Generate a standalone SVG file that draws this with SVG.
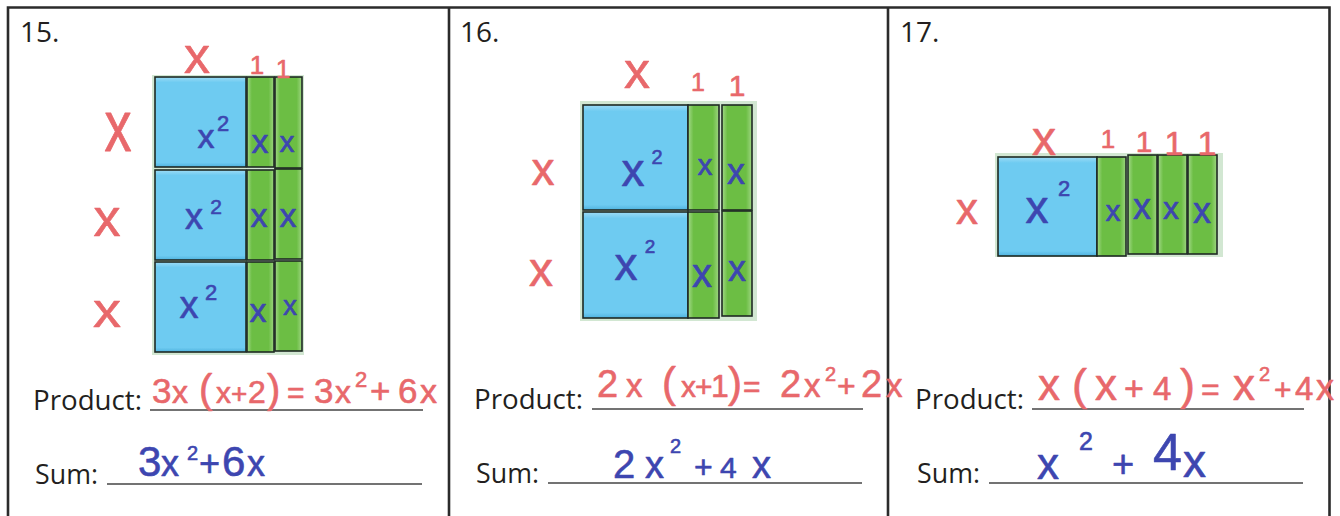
<svg xmlns="http://www.w3.org/2000/svg" width="1340" height="516" viewBox="0 0 1340 516">
<defs>
<linearGradient id="gg" x1="0" y1="0" x2="1" y2="0">
<stop offset="0" stop-color="#a4d98a"/><stop offset="0.18" stop-color="#6cbe44"/><stop offset="0.8" stop-color="#6cbe44"/><stop offset="1" stop-color="#9fd683"/>
</linearGradient>
<linearGradient id="bgr" x1="0" y1="0" x2="0" y2="1">
<stop offset="0" stop-color="#9edcf6"/><stop offset="0.06" stop-color="#6ecbf1"/><stop offset="0.95" stop-color="#6ecbf1"/><stop offset="1" stop-color="#4fb2de"/>
</linearGradient>
<style>
.frame{stroke:#2b2b2b;stroke-width:2.6;fill:none}
.bg{fill:#d2e7d2}
.sq{fill:url(#bgr);stroke:#1f2a24;stroke-width:1.6}
.st{fill:url(#gg);stroke:#1f2a24;stroke-width:1.6}
.ln{stroke:#444;stroke-width:1.6}
.lab{font-family:"Open Sans","Liberation Sans",sans-serif;fill:#231f20}
.h{font-family:"Liberation Sans",Arial,sans-serif;stroke-linejoin:round;stroke-linecap:round}
.r{fill:#e8686b;stroke:#e8686b;stroke-width:0.6}
.b{fill:#3d46b0;stroke:#3d46b0;stroke-width:0.6}
.m{text-anchor:middle}
</style>
</defs>
<rect width="1340" height="516" fill="#ffffff"/>
<g id="frame">
<path class="frame" d="M8 516V7.5H1329.5V516M449 7.5V516M888 7.5V516"/>
</g>

<g id="panel15">
<text class="lab" x="20" y="42" font-size="28">15.</text>
<g id="tiles15">
<rect class="bg" x="152" y="75" width="152" height="280"/>
<rect class="sq" x="155" y="77" width="91" height="90"/>
<rect class="sq" x="155" y="170" width="91" height="90"/>
<rect class="sq" x="155" y="262" width="91" height="90"/>
<rect class="st" x="247" y="77" width="27" height="90"/>
<rect class="st" x="247" y="170" width="27" height="90"/>
<rect class="st" x="247" y="262" width="27" height="90"/>
<rect class="st" x="275" y="77" width="27" height="91"/>
<rect class="st" x="275" y="169" width="27" height="90"/>
<rect class="st" x="275" y="261" width="27" height="90"/>
</g>
<g id="red15" class="h r m">
<text x="197" y="73" font-size="52">x</text>
<text x="257" y="74" font-size="26">1</text>
<text x="283" y="78" font-size="26">1</text>
<text transform="translate(118,132) scale(1,1.35)" x="0" y="14" font-size="54">x</text>
<text x="107" y="236" font-size="54">x</text>
<text transform="translate(107,314) scale(1,0.85)" x="0" y="15" font-size="56">x</text>
</g>
<g id="blue15" class="h b m">
<text x="206" y="148" font-size="34">x</text><text x="223" y="131" font-size="22">2</text>
<text x="194" y="229" font-size="36">x</text><text x="216" y="214" font-size="21">2</text>
<text x="189" y="318" font-size="38">x</text><text x="211" y="300" font-size="22">2</text>
<text x="260" y="153" font-size="34">x</text>
<text x="287" y="152" font-size="30">x</text>
<text x="259" y="227" font-size="34">x</text>
<text x="288" y="227" font-size="34">x</text>
<text x="258" y="322" font-size="34">x</text>
<text x="290" y="315" font-size="28">x</text>
</g>
<g id="answers15">
<text class="lab" x="33" y="410" font-size="28" textLength="109" lengthAdjust="spacingAndGlyphs">Product:</text>
<line class="ln" x1="150" y1="410" x2="423" y2="410"/>
<text class="lab" x="35" y="484" font-size="28" textLength="63" lengthAdjust="spacingAndGlyphs">Sum:</text>
<line class="ln" x1="107" y1="484" x2="422" y2="484"/>
<text class="h r" y="403" font-size="35"><tspan x="152">3</tspan><tspan x="172" font-size="32">x</tspan><tspan x="199" font-size="40">(</tspan><tspan x="216" font-size="30">x</tspan><tspan x="231" font-size="28">+</tspan><tspan x="248" font-size="32">2</tspan><tspan x="267" font-size="40">)</tspan><tspan x="287" font-size="30">=</tspan><tspan x="314">3</tspan><tspan x="335" font-size="32">x</tspan><tspan x="355" y="387" font-size="22">2</tspan><tspan x="370" y="403">+</tspan><tspan x="398">6</tspan><tspan x="420" font-size="34">x</tspan></text>
<text class="h b" y="476" font-size="42"><tspan x="138">3</tspan><tspan x="161" font-size="36">x</tspan><tspan x="187" y="460" font-size="20">2</tspan><tspan x="199" y="476" font-size="36">+</tspan><tspan x="222">6</tspan><tspan x="247" font-size="36">x</tspan></text>
</g>
</g>

<g id="panel16">
<text class="lab" x="460" y="42" font-size="28">16.</text>
<g id="tiles16">
<rect class="bg" x="580" y="101" width="177" height="220"/>
<rect class="sq" x="583" y="105" width="105" height="105"/>
<rect class="sq" x="583" y="212" width="105" height="106"/>
<rect class="st" x="688" y="105" width="31" height="105"/>
<rect class="st" x="688" y="212" width="31" height="106"/>
<rect class="st" x="722" y="105" width="30" height="105"/>
<rect class="st" x="722" y="211" width="30" height="105"/>
</g>
<g id="red16" class="h r m">
<text x="637" y="88" font-size="52">x</text>
<text x="698" y="91" font-size="25">1</text>
<text x="737" y="96" font-size="30">1</text>
<text x="543" y="185" font-size="46">x</text>
<text x="541" y="286" font-size="48">x</text>
</g>
<g id="blue16" class="h b m">
<text x="633" y="186" font-size="46">x</text><text x="657" y="164" font-size="20">2</text>
<text x="626" y="280" font-size="46">x</text><text x="650" y="253" font-size="19">2</text>
<text x="705" y="175" font-size="30">x</text>
<text x="736" y="184" font-size="36">x</text>
<text x="702" y="287" font-size="40">x</text>
<text x="737" y="281" font-size="36">x</text>
</g>
<g id="answers16">
<text class="lab" x="474" y="409" font-size="28" textLength="109" lengthAdjust="spacingAndGlyphs">Product:</text>
<line class="ln" x1="592" y1="409" x2="863" y2="409"/>
<text class="lab" x="476" y="483" font-size="28" textLength="63" lengthAdjust="spacingAndGlyphs">Sum:</text>
<line class="ln" x1="548" y1="483" x2="862" y2="483"/>
<text class="h r" y="397" font-size="38"><tspan x="597">2</tspan><tspan x="626" font-size="33">x</tspan><tspan x="662" font-size="42">(</tspan><tspan x="681" font-size="30">x</tspan><tspan x="695" font-size="30">+</tspan><tspan x="711" font-size="32">1</tspan><tspan x="728" font-size="42">)</tspan><tspan x="743" font-size="30">=</tspan><tspan x="780">2</tspan><tspan x="804" font-size="33">x</tspan><tspan x="825" y="381" font-size="20">2</tspan><tspan x="837" y="397" font-size="32">+</tspan><tspan x="861">2</tspan><tspan x="886" font-size="33">x</tspan></text>
<text class="h b" y="478" font-size="40"><tspan x="613">2</tspan><tspan x="645" font-size="38">x</tspan><tspan x="670" y="453" font-size="20">2</tspan><tspan x="694" y="478" font-size="32">+</tspan><tspan x="720" font-size="30">4</tspan><tspan x="752" font-size="38">x</tspan></text>
</g>
</g>

<g id="panel17">
<text class="lab" x="900" y="42" font-size="28">17.</text>
<g id="tiles17">
<rect class="bg" x="995" y="153" width="228" height="104"/>
<rect class="sq" x="998" y="157" width="99" height="99"/>
<rect class="st" x="1097" y="157" width="29" height="99"/>
<rect class="st" x="1128" y="155" width="29" height="99"/>
<rect class="st" x="1158" y="155" width="29" height="99"/>
<rect class="st" x="1188" y="155" width="29" height="99"/>
</g>
<g id="red17" class="h r m">
<text x="1044" y="155" font-size="48">x</text>
<text x="1108" y="148" font-size="26">1</text>
<text x="1144" y="152" font-size="30">1</text>
<text x="1174" y="155" font-size="34">1</text>
<text x="1207" y="155" font-size="34">1</text>
<text x="967" y="224" font-size="44">x</text>
</g>
<g id="blue17" class="h b m">
<text x="1037" y="223" font-size="46">x</text><text x="1064" y="196" font-size="22">2</text>
<text x="1113" y="221" font-size="30">x</text>
<text x="1142" y="219" font-size="36">x</text>
<text x="1171" y="219" font-size="32">x</text>
<text x="1202" y="223" font-size="36">x</text>
</g>
<g id="answers17">
<text class="lab" x="915" y="409" font-size="28" textLength="109" lengthAdjust="spacingAndGlyphs">Product:</text>
<line class="ln" x1="1032" y1="409" x2="1304" y2="409"/>
<text class="lab" x="917" y="483" font-size="28" textLength="63" lengthAdjust="spacingAndGlyphs">Sum:</text>
<line class="ln" x1="989" y1="483" x2="1303" y2="483"/>
<text class="h r" y="400" font-size="36"><tspan x="1038" font-size="44">x</tspan><tspan x="1072" font-size="45">(</tspan><tspan x="1095" font-size="44">x</tspan><tspan x="1124" font-size="34">+</tspan><tspan x="1153" font-size="33">4</tspan><tspan x="1180" font-size="45">)</tspan><tspan x="1201" font-size="32">=</tspan><tspan x="1233" font-size="44">x</tspan><tspan x="1259" y="381" font-size="20">2</tspan><tspan x="1274" y="400" font-size="30">+</tspan><tspan x="1295" font-size="33">4</tspan><tspan x="1316" font-size="36">x</tspan></text>
<text class="h b" y="479" font-size="44"><tspan x="1037">x</tspan><tspan x="1079" y="450" font-size="25">2</tspan><tspan x="1112" y="477" font-size="38">+</tspan><tspan x="1153" y="470" font-size="52">4</tspan><tspan x="1183" y="477" font-size="46">x</tspan></text>
</g>
</g>
</svg>
